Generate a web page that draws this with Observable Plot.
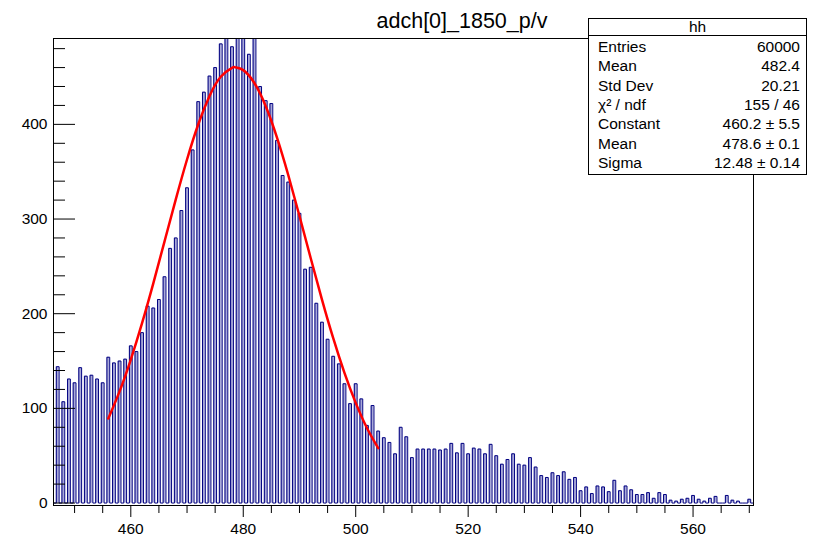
<!DOCTYPE html>
<html><head><meta charset="utf-8">
<script src="https://cdn.jsdelivr.net/npm/d3@7"></script>
<script src="https://cdn.jsdelivr.net/npm/@observablehq/plot@0.6"></script>
<style>html,body{margin:0;padding:0;background:#fff}svg{display:block}</style>
</head><body><div id="chart"></div>
<script>
// ---- data ----
const chartTitle = "adch[0]_1850_p/v";
// histogram definition (249 bins of 0.5 from 446.25 to 570.75)
const binLow = 446.25, binHigh = 570.75, binCount = 249;
// entries per integer ADC value, starting at 447 (values at 477, 479, 480, 482 run past the frame)
const adcFirst = 447;
const adcCounts = [
  144,107,131,127,143,134,135,131,127,154,   // 447-456
  148,150,152,166,160,180,208,206,215,239,   // 457-466
  269,280,309,333,373,424,434,451,460,485,   // 467-476
  497,482,495,499,474,496,440,425,422,383,   // 477-486
  346,339,320,306,247,249,211,191,173,155,   // 487-496
  147,126,105,126,110,82,103,76,69,64,       // 497-506
  52,80,70,48,57,57,57,57,56,57,             // 507-516
  63,53,63,52,58,57,52,62,50,41,             // 517-526
  46,52,41,40,48,38,29,27,32,29,             // 527-536
  33,25,27,13,17,10,18,17,12,24,             // 537-546
  13,18,14,9,9,11,5,11,9,3,                  // 547-556
  2,4,5,8,4,2,5,7,0,8,                       // 557-566
  3,2,0,4                                    // 567-570
];
const fitX = [456,458,460,462,464,466,468,470,472,474,476,478,478.6,480,482,484,486,488,490,492,494,496,498,500,502,504];
const fitY = [89.3,117.9,151.6,190.0,232.1,276.4,320.8,362.9,400.1,430.0,450.3,459.7,460.2,457.3,443.4,419.1,386.0,346.5,303.2,258.6,214.9,174.1,137.5,105.8,79.3,58.0];
const yMajor = [0,100,200,300,400];
const yMinor = [20,40,60,80,120,140,160,180,220,240,260,280,320,340,360,380,420,440,460,480];
const xMajor = [460,480,500,520,540,560];
const xMinor = [450,455,465,470,475,485,490,495,505,510,515,525,530,535,545,550,555,565,570];
const yDomain = [-2.6, 490.7];
const statsName = "hh";
const statsLabels = ["Entries","Mean","Std Dev","χ² / ndf","Constant","Mean","Sigma"];
const statsValues = ["60000","482.4","20.21","155 / 46","460.2 ± 5.5","478.6 ± 0.1","12.48 ± 0.14"];

// ---- build histogram table ----
const W = 831, H = 537;
const mL = 53, mR = 78, mT = 38, mB = 32;
const plotW = W - mL - mR;
const bw = (binHigh - binLow) / binCount;
const binTotals = new Array(binCount).fill(0);
adcCounts.forEach((c, i) => {
  const k = Math.floor((adcFirst + i - binLow) / bw);
  if (k >= 0 && k < binCount) binTotals[k] += c;
});
const yCap = yDomain[1];
const bins = binTotals.map((c, i) => ({x1: binLow + i * bw, x2: binLow + (i + 1) * bw, y1: 0, y2: Math.min(c, yCap), c}));
const outline = bins.map(b => ({x: b.x1, y: b.y2}));
outline.push({x: binHigh, y: bins[bins.length - 1].y2});
const fit = fitX.map((x, i) => ({x, y: fitY[i]}));
const font = "'Liberation Sans', Arial, Helvetica, sans-serif";

const chart = Plot.plot({
  width: W, height: H,
  marginLeft: mL, marginRight: mR, marginTop: mT, marginBottom: mB,
  x: {domain: [binLow, binHigh]},
  y: {domain: yDomain},
  style: {fontFamily: font, fontSize: "15.5px", color: "black", background: "white"},
  marks: [
    Plot.rect(bins.filter(b => b.c > 0), {x1: "x1", x2: "x2", y1: "y1", y2: "y2", fill: "#a9a9d9"}),
    Plot.line(outline, {x: "x", y: "y", curve: "step-after", stroke: "#000080", strokeWidth: 1}),
    Plot.line(fit, {x: "x", y: "y", curve: "natural", stroke: "#ff0000", strokeWidth: 2.5}),
    Plot.tickY(yMinor, {y: d => d, insetRight: plotW - 12, stroke: "black"}),
    Plot.tickY(yMajor, {y: d => d, insetRight: plotW - 22, stroke: "black"}),
    Plot.axisY({ticks: yMajor, tickSize: 0, tickPadding: 6, label: null, fontSize: "15.5px"}),
    Plot.axisX({ticks: xMinor, tickSize: 8, tickFormat: () => "", label: null}),
    Plot.axisX({ticks: xMajor, tickSize: 12, tickPadding: 5, label: null, fontSize: "15.5px"}),
    Plot.frame({stroke: "black"})
  ]
});
document.getElementById("chart").appendChild(chart);

// title and statistics box
const svg = d3.select(chart);
svg.append("text").attr("x", 462).attr("y", 28).attr("text-anchor", "middle")
  .attr("font-family", font).attr("font-size", 21.5).attr("fill", "black").text(chartTitle);

const bx = 588.5, by = 18.5, bW = 218, bH = 156;
const g = svg.append("g").attr("font-family", font).attr("font-size", 15.5).attr("fill", "black");
g.append("rect").attr("x", bx).attr("y", by).attr("width", bW).attr("height", bH)
  .attr("fill", "white").attr("stroke", "black").attr("stroke-width", 1);
g.append("line").attr("x1", bx).attr("x2", bx + bW).attr("y1", 35.5).attr("y2", 35.5).attr("stroke", "black");
g.append("text").attr("x", bx + bW / 2).attr("y", 31.5).attr("text-anchor", "middle").text(statsName);
statsLabels.forEach((lab, i) => {
  const yy = 51.7 + i * 19.4;
  g.append("text").attr("x", 598).attr("y", yy).attr("text-anchor", "start").text(lab);
  g.append("text").attr("x", 800).attr("y", yy).attr("text-anchor", "end").text(statsValues[i]);
});
</script></body></html>
